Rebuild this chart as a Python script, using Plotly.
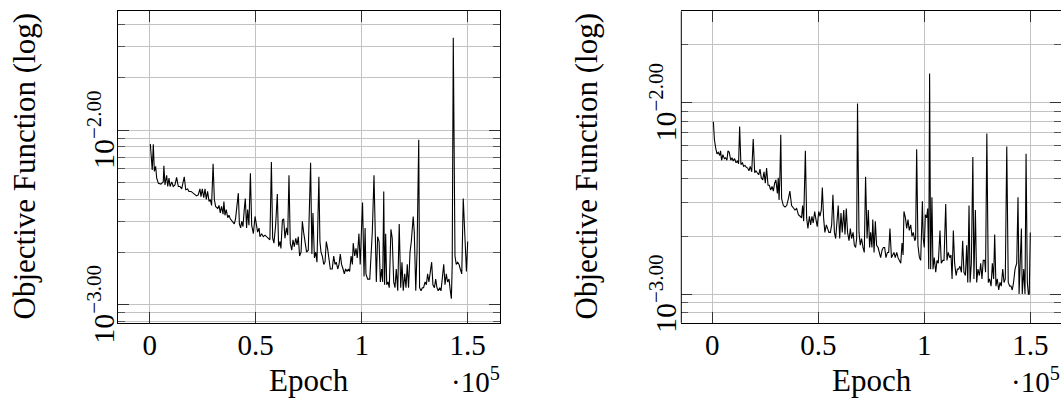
import math
import plotly.graph_objects as go

# ---------------- data ----------------
left_epoch = [300, 900, 1200, 1700, 2200, 2800, 3300, 4100, 5300, 6400, 6700, 7200, 8000, 8500, 9100, 9600,
              10400, 11100, 11900, 12700, 13500, 14300, 15100, 16300, 17000, 17900, 18500, 19500, 20600,
              21400, 22100, 22900, 23700, 24200, 24800, 25500, 26100, 26700, 27300, 28000, 28600, 29200,
              29900, 30500, 31100, 32100, 32700, 33300, 33900, 34600, 35000, 35500, 36100, 36800, 37400,
              38000, 39000, 39900, 40500, 41200, 41800, 42300, 42900, 43400, 44000, 44600, 45100, 45700,
              46200, 46800, 47500, 48100, 48900, 49700, 50900, 51600, 52000, 52800, 53600, 54400, 55200,
              56000, 56700, 57400, 58000, 58600, 59400, 60200, 60800, 61500, 61900, 62600, 63200, 63800,
              64500, 65100, 65700, 66300, 67000, 67600, 68200, 68900, 69500, 70100, 70700, 71400, 72000,
              72600, 73300, 74000, 74800, 75400, 75900, 76500, 77000, 77700, 78300, 78900, 79800, 80300,
              80800, 81400, 82100, 82700, 83300, 83900, 84600, 85200, 86100, 86800, 87400, 88000, 88700,
              89300, 89900, 90500, 91200, 91800, 92400, 93100, 93700, 94300, 95000, 95600, 96000, 96700,
              97300, 97900, 98700, 99300, 100000, 100400, 101100, 101600, 102000, 102800, 103800, 104400,
              105000, 105800, 106400, 106900, 107500, 108200, 108800, 109400, 109900, 110400, 110800,
              111300, 111800, 112400, 113000, 113800, 114400, 115100, 115700, 116300, 117000, 117700,
              118400, 119000, 119600, 120300, 120900, 121500, 122100, 122800, 123400, 124300, 124800,
              125500, 126100, 126900, 127300, 128000, 128600, 129200, 129900, 130500, 131100, 131700,
              132400, 133000, 133600, 134300, 134900, 135500, 136100, 136800, 137400, 138000, 138700,
              139300, 139900, 140500, 141200, 141800, 142300, 142700, 143200, 144000, 144600, 145300,
              145900, 146500, 147200, 147900, 148700, 149400, 150000]
left_loss = [8.3e-3, 6.9e-3, 5.9e-3, 8.3e-3, 5.8e-3, 6.2e-3, 5.3e-3, 4.95e-3, 4.9e-3, 5.05e-3, 6.25e-3,
             4.85e-3, 5.5e-3, 4.75e-3, 5.3e-3, 4.75e-3, 5.05e-3, 4.75e-3, 4.85e-3, 5.35e-3, 4.75e-3,
             4.75e-3, 4.6e-3, 5.4e-3, 4.55e-3, 4.6e-3, 4.45e-3, 4.45e-3, 4.35e-3, 4.3e-3, 4.2e-3, 4.25e-3,
             4.6e-3, 4.15e-3, 4.6e-3, 4.1e-3, 4.6e-3, 4.0e-3, 4.45e-3, 3.9e-3, 4.0e-3, 3.7e-3, 6.4e-3,
             4.0e-3, 3.65e-3, 3.55e-3, 3.7e-3, 3.35e-3, 3.65e-3, 3.3e-3, 3.9e-3, 3.25e-3, 3.5e-3, 3.15e-3,
             3.25e-3, 3.1e-3, 3.0e-3, 2.9e-3, 3.1e-3, 3.7e-3, 4.35e-3, 2.9e-3, 2.75e-3, 3.0e-3, 2.8e-3,
             3.5e-3, 4.05e-3, 2.75e-3, 3.5e-3, 2.85e-3, 5.65e-3, 2.85e-3, 2.55e-3, 3.2e-3, 2.6e-3, 2.75e-3,
             2.45e-3, 2.55e-3, 2.45e-3, 2.5e-3, 2.45e-3, 2.4e-3, 2.35e-3, 6.55e-3, 2.4e-3, 2.25e-3,
             2.85e-3, 4.3e-3, 2.15e-3, 2.3e-3, 2.1e-3, 3.05e-3, 3.1e-3, 2.4e-3, 2.75e-3, 2.5e-3, 5.5e-3,
             2.25e-3, 2.05e-3, 2.35e-3, 2.15e-3, 2.4e-3, 2.2e-3, 2.45e-3, 1.9e-3, 2.0e-3, 3.0e-3, 2.6e-3,
             2.3e-3, 2.0e-3, 2.05e-3, 3.35e-3, 6.5e-3, 1.95e-3, 3.35e-3, 1.85e-3, 2.0e-3, 1.75e-3, 5.4e-3,
             2.3e-3, 2.0e-3, 1.9e-3, 1.7e-3, 1.75e-3, 2.3e-3, 2.1e-3, 1.85e-3, 1.6e-3, 1.6e-3, 1.9e-3,
             1.7e-3, 1.75e-3, 1.6e-3, 1.7e-3, 1.95e-3, 1.7e-3, 1.6e-3, 1.5e-3, 1.6e-3, 1.55e-3, 1.6e-3,
             1.55e-3, 1.9e-3, 1.7e-3, 2.25e-3, 1.9e-3, 2.1e-3, 1.85e-3, 2.55e-3, 1.7e-3, 2.9e-3, 3.85e-3,
             1.45e-3, 2.75e-3, 1.5e-3, 1.4e-3, 1.4e-3, 2.0e-3, 2.6e-3, 5.5e-3, 2.0e-3, 1.35e-3, 2.45e-3,
             2.3e-3, 1.35e-3, 1.6e-3, 1.35e-3, 4.45e-3, 1.3e-3, 2.55e-3, 1.3e-3, 1.35e-3, 1.25e-3, 2.7e-3,
             2.4e-3, 1.35e-3, 1.25e-3, 1.6e-3, 1.2e-3, 2.9e-3, 1.25e-3, 1.75e-3, 1.2e-3, 1.5e-3, 1.25e-3,
             1.7e-3, 1.25e-3, 2.0e-3, 2.3e-3, 3.2e-3, 2.6e-3, 1.2e-3, 2.0e-3, 8.8e-3, 1.25e-3, 1.2e-3,
             1.25e-3, 1.25e-3, 1.35e-3, 1.3e-3, 1.5e-3, 1.35e-3, 1.55e-3, 1.75e-3, 1.3e-3, 1.25e-3,
             1.4e-3, 1.25e-3, 1.2e-3, 1.25e-3, 1.2e-3, 1.4e-3, 1.7e-3, 1.3e-3, 1.5e-3, 1.35e-3, 1.4e-3,
             1.2e-3, 1.08e-3, 1.7e-3, 3.38e-2, 1.9e-3, 1.7e-3, 1.75e-3, 1.7e-3, 1.6e-3, 1.5e-3, 4.05e-3,
             2.5e-3, 1.55e-3, 2.3e-3]

right_epoch = [500, 1000, 1600, 2200, 2800, 3500, 3900, 4400, 5000, 5700, 6300, 6900, 7400, 8000, 8700,
               9300, 9900, 10500, 11200, 11800, 12400, 12900, 13500, 14200, 14800, 15400, 16000, 16700,
               17300, 17900, 18600, 19300, 20000, 20600, 21200, 21900, 22500, 23100, 23800, 24400, 25000,
               25600, 26300, 26900, 27500, 28200, 28800, 29400, 30000, 30700, 31100, 31500, 31900, 32300,
               32700, 33500, 34300, 35100, 35900, 36600, 37400, 38200, 39000, 39800, 40600, 41400, 42100,
               42600, 43100, 43900, 44500, 45100, 45800, 46400, 47000, 47600, 48300, 48900, 49500, 50200,
               50800, 51400, 51900, 52500, 53100, 53800, 54400, 55000, 55700, 56300, 56900, 57600, 58200,
               58800, 59400, 60100, 60700, 61300, 62000, 62600, 63200, 63800, 64500, 65100, 65700, 66400,
               67000, 67600, 68100, 68500, 69200, 69800, 70400, 71100, 71700, 72300, 73000, 73600, 74200,
               74700, 75300, 75700, 76300, 76900, 77500, 78200, 78800, 79400, 80100, 80700, 81300, 81900,
               82600, 83200, 83800, 84500, 85100, 85700, 86300, 87000, 87600, 88200, 88900, 89500, 90000,
               90400, 91100, 91700, 92300, 92900, 93600, 94200, 94800, 95500, 95900, 96400, 97000, 97700,
               98300, 98800, 99100, 99500, 100000, 100500, 101100, 101600, 102100, 102500, 103000,
               103600, 104100, 104700, 105400, 106000, 106600, 107400, 108000, 108700, 109300, 110100,
               110700, 111300, 112000, 112600, 113100, 113700, 114300, 115000, 115600, 116200, 116800,
               117500, 118100, 118700, 119400, 120000, 120500, 121100, 121600, 122200, 122900, 123400,
               124100, 124700, 125300, 126000, 126600, 127200, 127800, 128500, 128900, 129500, 130200,
               130800, 131500, 132100, 132700, 133200, 133800, 134400, 135100, 135700, 136300, 137000,
               137600, 138200, 138900, 139600, 140300, 140900, 141500, 142100, 142800, 143600, 144200,
               144700, 145100, 145800, 146200, 146900, 147500, 148000, 148600, 149100, 149500, 150000]
right_loss = [7.95e-3, 6.4e-3, 5.8e-3, 5.4e-3, 5.5e-3, 5.3e-3, 5.6e-3, 5.0e-3, 5.35e-3, 5.1e-3, 5.15e-3,
              5.0e-3, 5.6e-3, 5.5e-3, 5.0e-3, 5.15e-3, 4.95e-3, 5.1e-3, 4.85e-3, 4.95e-3, 4.8e-3, 7.5e-3,
              4.75e-3, 4.85e-3, 4.65e-3, 4.7e-3, 4.6e-3, 4.55e-3, 4.4e-3, 4.65e-3, 4.35e-3, 6.45e-3,
              4.3e-3, 4.4e-3, 4.3e-3, 4.2e-3, 4.5e-3, 4.05e-3, 3.95e-3, 4.35e-3, 3.8e-3, 4.55e-3, 3.7e-3,
              3.7e-3, 3.5e-3, 3.65e-3, 3.45e-3, 3.8e-3, 3.95e-3, 3.35e-3, 4.05e-3, 3.1e-3, 4.1e-3, 6.8e-3,
              3.15e-3, 2.9e-3, 2.85e-3, 2.9e-3, 3.15e-3, 3.45e-3, 2.9e-3, 2.8e-3, 2.75e-3, 2.8e-3, 2.6e-3,
              2.55e-3, 2.5e-3, 2.9e-3, 2.4e-3, 5.6e-3, 2.5e-3, 2.2e-3, 2.55e-3, 2.3e-3, 2.55e-3, 2.35e-3,
              2.7e-3, 2.45e-3, 2.25e-3, 2.7e-3, 2.55e-3, 2.75e-3, 3.6e-3, 2.5e-3, 2.1e-3, 2.3e-3, 2.2e-3,
              2.1e-3, 2.1e-3, 2.3e-3, 3.3e-3, 2.1e-3, 1.95e-3, 2.4e-3, 2.9e-3, 1.95e-3, 2.65e-3, 2.1e-3,
              2.75e-3, 2.05e-3, 2.8e-3, 2.1e-3, 1.9e-3, 2.2e-3, 1.95e-3, 2.1e-3, 1.8e-3, 1.75e-3, 1.95e-3,
              9.9e-3, 2.1e-3, 1.8e-3, 1.95e-3, 1.75e-3, 1.65e-3, 4.1e-3, 1.95e-3, 2.75e-3, 1.75e-3,
              2.1e-3, 1.75e-3, 2.45e-3, 1.65e-3, 2.4e-3, 1.8e-3, 1.75e-3, 1.65e-3, 1.55e-3, 1.7e-3,
              1.75e-3, 1.75e-3, 1.55e-3, 1.65e-3, 1.65e-3, 2.2e-3, 1.55e-3, 1.6e-3, 1.65e-3, 1.55e-3,
              1.65e-3, 1.55e-3, 1.5e-3, 1.45e-3, 1.85e-3, 1.6e-3, 2.7e-3, 2.5e-3, 2.2e-3, 2.45e-3, 2.15e-3,
              2.3e-3, 2.0e-3, 2.1e-3, 1.9e-3, 1.95e-3, 5.7e-3, 1.8e-3, 1.55e-3, 1.5e-3, 2.3e-3, 3.05e-3,
              1.95e-3, 1.75e-3, 2.6e-3, 2.5e-3, 2.8e-3, 1.35e-3, 1.42e-2, 1.35e-3, 3.2e-3, 1.35e-3,
              1.55e-3, 1.3e-3, 1.5e-3, 1.45e-3, 2.15e-3, 1.45e-3, 1.5e-3, 1.5e-3, 2.95e-3, 1.5e-3, 1.65e-3,
              1.55e-3, 1.6e-3, 1.2e-3, 2.15e-3, 1.45e-3, 1.25e-3, 1.35e-3, 1.35e-3, 1.4e-3, 1.3e-3, 1.9e-3,
              1.3e-3, 1.25e-3, 1.8e-3, 1.15e-3, 2.9e-3, 1.15e-3, 1.45e-3, 5.2e-3, 1.2e-3, 2.75e-3, 1.15e-3,
              1.35e-3, 1.25e-3, 1.45e-3, 1.2e-3, 1.5e-3, 1.5e-3, 1.3e-3, 6.9e-3, 1.15e-3, 1.2e-3, 1.1e-3,
              1.45e-3, 1.2e-3, 2.05e-3, 1.1e-3, 1.2e-3, 1.05e-3, 1.15e-3, 1.1e-3, 1.35e-3, 1.15e-3,
              1.2e-3, 5.9e-3, 1.15e-3, 1.1e-3, 1.1e-3, 1.05e-3, 1.15e-3, 1.35e-3, 1.45e-3, 3.2e-3, 1.0e-3,
              1.45e-3, 2.2e-3, 1.0e-3, 1.35e-3, 1.0e-3, 5.4e-3, 1.15e-3, 1.0e-3, 1.0e-3, 2.1e-3]

x_tick_vals = [0, 50000, 100000, 150000]
x_tick_text = ["0", "0.5", "1", "1.5"]
y_tick_vals = [1e-3, 1e-2]
y_tick_text = ["10<sup>\u22123.00</sup>", "10<sup>\u22122.00</sup>"]
y_minor_vals = [8e-4, 9e-4, 2e-3, 3e-3, 4e-3, 5e-3, 6e-3, 7e-3, 8e-3, 9e-3, 2e-2, 3e-2, 4e-2]
y_title = "Objective Function (log)"
x_title = "Epoch"
x_scale_note = "\u00b710<sup>5</sup>"

# ---------------- figure ----------------
W, H = 1061, 399
FONT = "Liberation Serif"
GRID = "#c2c2c2"

fig = go.Figure()
fig.add_trace(go.Scatter(x=left_epoch, y=left_loss, mode="lines",
                         line=dict(color="black", width=1.1), xaxis="x", yaxis="y", showlegend=False))
fig.add_trace(go.Scatter(x=right_epoch, y=right_loss, mode="lines",
                         line=dict(color="black", width=1.1), xaxis="x2", yaxis="y2", showlegend=False))

def xax(domain, rng, anchor):
    return dict(domain=domain, range=rng, anchor=anchor, tickmode="array", tickvals=x_tick_vals,
                ticktext=x_tick_text, showgrid=True, gridcolor=GRID, gridwidth=1, zeroline=False,
                ticks="inside", ticklen=11, tickcolor="#333", tickwidth=1, showline=True,
                linecolor="black", linewidth=1, mirror="ticks", automargin=False,
                tickfont=dict(family=FONT, size=29, color="black"), ticklabelstandoff=-4)

def yax(domain, rng, anchor, showline=True):
    return dict(domain=domain, range=rng, anchor=anchor, type="log", tickmode="array",
                tickvals=y_tick_vals, showticklabels=False, showgrid=True, automargin=False,
                gridcolor=GRID, gridwidth=1, zeroline=False, ticks="inside", ticklen=11,
                tickcolor="#333", tickwidth=1, showline=showline, linecolor="black", linewidth=1,
                mirror="ticks",
                minor=dict(tickmode="array", tickvals=y_minor_vals, ticks="inside", ticklen=7,
                           tickcolor="#555", showgrid=True, gridcolor=GRID, gridwidth=1))

ydom = [1 - 322.8 / H, 1 - 11.3 / H]
x2_left = 681.3 / W
fig.update_layout(
    width=W, height=H, margin=dict(l=0, r=0, t=0, b=0, autoexpand=False),
    paper_bgcolor="white", plot_bgcolor="white",
    xaxis=xax([117.9 / W, 499.5 / W], [-15000, 165000], "y"),
    yaxis=yax(ydom, [-3.104, -1.320], "x"),
    xaxis2=xax([x2_left, 1.0], [-14620, 164480], "y2"),
    yaxis2=yax(ydom, [-3.150, -1.523], "x2", showline=False),
)
# left border of the right panel (its right border lies just outside the picture)
fig.add_shape(type="line", xref="paper", yref="paper", x0=x2_left, x1=x2_left, y0=ydom[0], y1=ydom[1],
              line=dict(color="black", width=1), layer="above")

# rotated y tick labels (placed through each y axis)
for yref, xc in (("y", 101), ("y2", 663)):
    for v, t in zip(y_tick_vals, y_tick_text):
        fig.add_annotation(xref="paper", yref=yref, x=xc / W, y=math.log10(v), text=t,
                           textangle=-90, showarrow=False, xanchor="center", yanchor="middle",
                           font=dict(family=FONT, size=30, color="black"))

ann_font = dict(family=FONT, size=31, color="black")
for xc in (24, 586):
    fig.add_annotation(xref="paper", yref="paper", x=xc / W, y=1 - 166.5 / H, text=y_title,
                       textangle=-90, showarrow=False, font=ann_font, xanchor="center", yanchor="middle")
for xc in (308.7, 871.6):
    fig.add_annotation(xref="paper", yref="paper", x=xc / W, y=0, text=x_title, borderpad=0,
                       showarrow=False, font=ann_font, xanchor="center", yanchor="bottom")
for xr in (501, 1061):
    fig.add_annotation(xref="paper", yref="paper", x=xr / W, y=0, text=x_scale_note, borderpad=0,
                       showarrow=False, font=dict(family=FONT, size=29, color="black"),
                       xanchor="right", yanchor="bottom")

fig.write_html("out.html")
